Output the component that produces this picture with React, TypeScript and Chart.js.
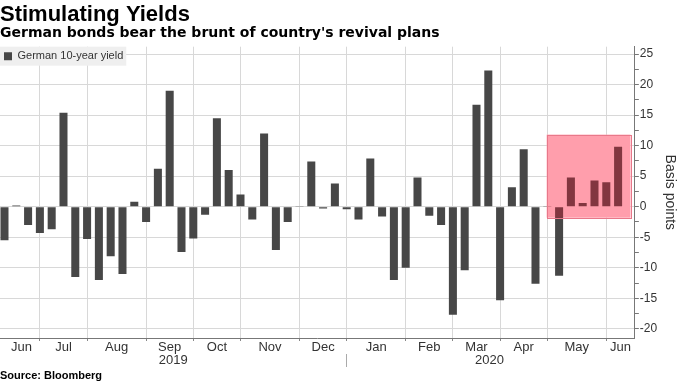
import React, { useEffect, useRef } from 'react';
import { Chart, registerables } from 'chart.js';

Chart.register(...registerables);

// ---- Data (weekly change in German 10-year yield, basis points) ----
const weeklyYieldChange: number[] = [
  -5.5, 0.2, -3.0, -4.3, -3.7, 15.4, -11.5, -5.3, -12.0, -8.1,
  -11.0, 0.8, -2.5, 6.2, 19.0, -7.4, -5.2, -1.3, 14.5, 6.0,
  2.0, -2.1, 12.0, -7.1, -2.5, 0.1, 7.4, -0.3, 3.8, -0.4,
  -2.1, 7.9, -1.6, -12.0, -10.0, 4.8, -1.5, -3.0, -17.7, -10.4,
  16.7, 22.3, -15.3, 3.2, 9.4, -12.6, 0.1, -11.3, 4.8, 0.6,
  4.3, 4.0, 9.8,
];

const seriesLabel = 'German 10-year yield';

// month labels and their positions (in week index units)
const monthLabels: string[] = ['Jun', 'Jul', 'Aug', 'Sep', 'Oct', 'Nov', 'Dec', 'Jan', 'Feb', 'Mar', 'Apr', 'May', 'Jun'];
const monthLabelPositions: number[] = [1.45, 5, 9.5, 14, 18, 22.5, 27, 31.5, 36, 40, 44, 48.5, 52.2];
const monthBoundaries: number[] = [3, 7, 12, 16, 20, 25, 29, 34, 38, 42, 46, 51];

const yearLabels: string[] = ['2019', '2020'];
const yearLabelPositions: number[] = [14.3, 41.1];
const yearBoundary = 29;

const yMajorTicks: number[] = [-20, -15, -10, -5, 0, 5, 10, 15, 20, 25];

const xRange: number[] = [-0.38, 53.42];
const yRange: number[] = [-21.5, 26.2];

// highlighted region (x in week index, y in basis points)
const highlightX: number[] = [45.95, 53.05];
const highlightY: number[] = [-1.8, 11.8];

const FONT = "'Liberation Sans', Arial, sans-serif";
const WIDE = "'DejaVu Sans', 'Liberation Sans', sans-serif";

function highlightRect(chart: any) {
  const xs = chart.scales.x;
  const ys = chart.scales.y;
  const l = xs.getPixelForValue(highlightX[0]);
  const r = xs.getPixelForValue(highlightX[1]);
  const t = ys.getPixelForValue(highlightY[1]);
  const b = ys.getPixelForValue(highlightY[0]);
  return { l, r, t, b };
}

const highlightPlugin = {
  id: 'highlightBox',
  beforeDatasetsDraw(chart: any) {
    const { l, r, t, b } = highlightRect(chart);
    const ctx = chart.ctx;
    ctx.save();
    ctx.fillStyle = '#ffe0e6';
    ctx.fillRect(l, t, r - l, b - t);
    ctx.restore();
  },
  afterDatasetsDraw(chart: any) {
    const { l, r, t, b } = highlightRect(chart);
    const ctx = chart.ctx;
    ctx.save();
    ctx.fillStyle = 'rgba(255,20,50,0.32)';
    ctx.fillRect(l, t, r - l, b - t);
    ctx.strokeStyle = '#e8788a';
    ctx.lineWidth = 1;
    ctx.strokeRect(Math.round(l) + 0.5, Math.round(t) + 0.5, Math.round(r - l), Math.round(b - t));
    ctx.restore();
  },
};

// places the legend inside the plot area (top-left) with a light background
const legendInPlotPlugin = {
  id: 'legendInPlot',
  afterLayout(chart: any) {
    const lg = chart.legend;
    if (!lg || lg.__patched) return;
    const orig = lg.draw.bind(lg);
    lg.draw = function (...args: any[]) {
      const ctx = chart.ctx;
      const ca = chart.chartArea;
      const dx = ca.left - lg.left;
      const dy = ca.top - lg.top;
      ctx.save();
      ctx.translate(dx, dy);
      const hb = lg.legendHitBoxes && lg.legendHitBoxes[0];
      if (hb) {
        const top = lg.top;
        const cy = hb.top + hb.height / 2;
        ctx.fillStyle = '#efefef';
        ctx.fillRect(lg.left, top, hb.left + hb.width + 3 - lg.left, 2 * (cy - top));
      }
      orig(...args);
      ctx.restore();
    };
    lg.__patched = true;
  },
};

export default function App() {
  const canvasRef = useRef<HTMLCanvasElement | null>(null);

  useEffect(() => {
    const canvas = canvasRef.current;
    if (!canvas) return;

    const chart = new Chart(canvas, {
      type: 'bar',
      data: {
        datasets: [
          {
            label: seriesLabel,
            data: weeklyYieldChange.map((v, i) => ({ x: i, y: v })),
            backgroundColor: '#474747',
            borderWidth: 0,
            barPercentage: 0.68,
            categoryPercentage: 1,
          } as any,
        ],
      },
      options: {
        responsive: false,
        animation: false,
        events: [],
        layout: { padding: { left: 0, right: 0, top: 0, bottom: 1 } },
        plugins: {
          tooltip: { enabled: false },
          title: {
            display: true,
            text: 'Stimulating Yields',
            align: 'start',
            color: '#000',
            font: { family: FONT, size: 22, weight: 'bold', lineHeight: 1.0 },
            padding: { top: 4, bottom: 0 },
          },
          subtitle: {
            display: true,
            text: "German bonds bear the brunt of country's revival plans",
            align: 'start',
            color: '#000',
            font: { family: WIDE, size: 14, weight: 'bold', lineHeight: 1.0 },
            padding: { top: 0, bottom: 6.7 },
          },
          legend: {
            display: true,
            position: 'chartArea' as any,
            align: 'start',
            labels: {
              boxWidth: 8,
              boxHeight: 8,
              padding: 4,
              color: '#333',
              font: { family: FONT, size: 11 },
            },
          },
        },
        scales: {
          x: {
            type: 'linear',
            position: 'bottom',
            min: xRange[0],
            max: xRange[1],
            offset: false,
            afterBuildTicks: (axis: any) => {
              axis.ticks = monthBoundaries.map((v) => ({ value: v }));
            },
            grid: {
              display: true,
              offset: false,
              drawOnChartArea: true,
              color: '#d8d8d8',
              lineWidth: 1,
              borderDash: [1, 2],
              drawTicks: true,
              tickLength: 3,
              tickColor: '#888',
              tickBorderDash: [],
            } as any,
            border: { display: true, color: '#777', width: 1 },
            ticks: { display: false },
          },
          x2: {
            type: 'linear',
            position: 'bottom',
            min: xRange[0],
            max: xRange[1],
            offset: false,
            afterBuildTicks: (axis: any) => {
              axis.ticks = monthLabelPositions.map((v) => ({ value: v }));
            },
            grid: { display: false, drawTicks: false, offset: false },
            border: { display: false },
            ticks: {
              autoSkip: false,
              maxRotation: 0,
              padding: 0,
              color: '#333',
              font: { family: FONT, size: 13, lineHeight: 1.0 },
              callback: (_v: any, i: number) => monthLabels[i],
            },
          },
          x3: {
            type: 'linear',
            position: 'bottom',
            min: xRange[0],
            max: xRange[1],
            offset: false,
            afterBuildTicks: (axis: any) => {
              axis.ticks = [...yearLabelPositions, yearBoundary].map((v) => ({ value: v }));
            },
            grid: {
              display: true,
              drawOnChartArea: false,
              drawTicks: true,
              tickLength: 13,
              offset: false,
              tickColor: (ctx: any) => (ctx.tick && ctx.tick.value === yearBoundary ? '#aaa' : 'rgba(0,0,0,0)'),
            },
            border: { display: false },
            ticks: {
              autoSkip: false,
              maxRotation: 0,
              padding: -13,
              color: '#333',
              font: { family: FONT, size: 13, lineHeight: 1.0 },
              callback: (_v: any, i: number) => (i < yearLabels.length ? yearLabels[i] : ''),
            },
            title: {
              display: true,
              text: 'Source: Bloomberg',
              align: 'start',
              color: '#000',
              font: { family: FONT, size: 11, weight: 'bold', lineHeight: 1.0 },
              padding: { top: 16, bottom: 1 },
            },
          },
          y: {
            type: 'linear',
            position: 'right',
            min: yRange[0],
            max: yRange[1],
            afterBuildTicks: (axis: any) => {
              const t: { value: number }[] = [];
              for (let i = 0; i < yMajorTicks.length; i++) {
                t.push({ value: yMajorTicks[i] });
                if (i < yMajorTicks.length - 1) t.push({ value: (yMajorTicks[i] + yMajorTicks[i + 1]) / 2 });
              }
              axis.ticks = t;
            },
            grid: {
              display: true,
              color: (ctx: any) => (ctx.tick && yMajorTicks.includes(ctx.tick.value) ? '#d8d8d8' : 'rgba(0,0,0,0)'),
              lineWidth: 1,
              borderDash: [1, 2],
              drawTicks: true,
              tickLength: 4,
              tickColor: '#777',
              tickBorderDash: [],
            } as any,
            border: { display: true, color: '#777', width: 1 },
            ticks: {
              autoSkip: false,
              padding: 1,
              color: '#333',
              font: { family: FONT, size: 12 },
              callback: (v: any) => (yMajorTicks.includes(Number(v)) ? String(v) : ''),
            },
            title: {
              display: true,
              text: 'Basis points',
              color: '#333',
              font: { family: FONT, size: 14 },
              padding: { top: 2, bottom: 3 },
            },
          },
        },
      } as any,
      plugins: [highlightPlugin, legendInPlotPlugin],
    });

    return () => {
      chart.destroy();
    };
  }, []);

  return (
    <div style={{ position: 'fixed', left: 0, top: 0, width: 680, height: 383, background: '#fff' }}>
      <canvas ref={canvasRef} width={680} height={383} style={{ display: 'block' }} />
    </div>
  );
}
